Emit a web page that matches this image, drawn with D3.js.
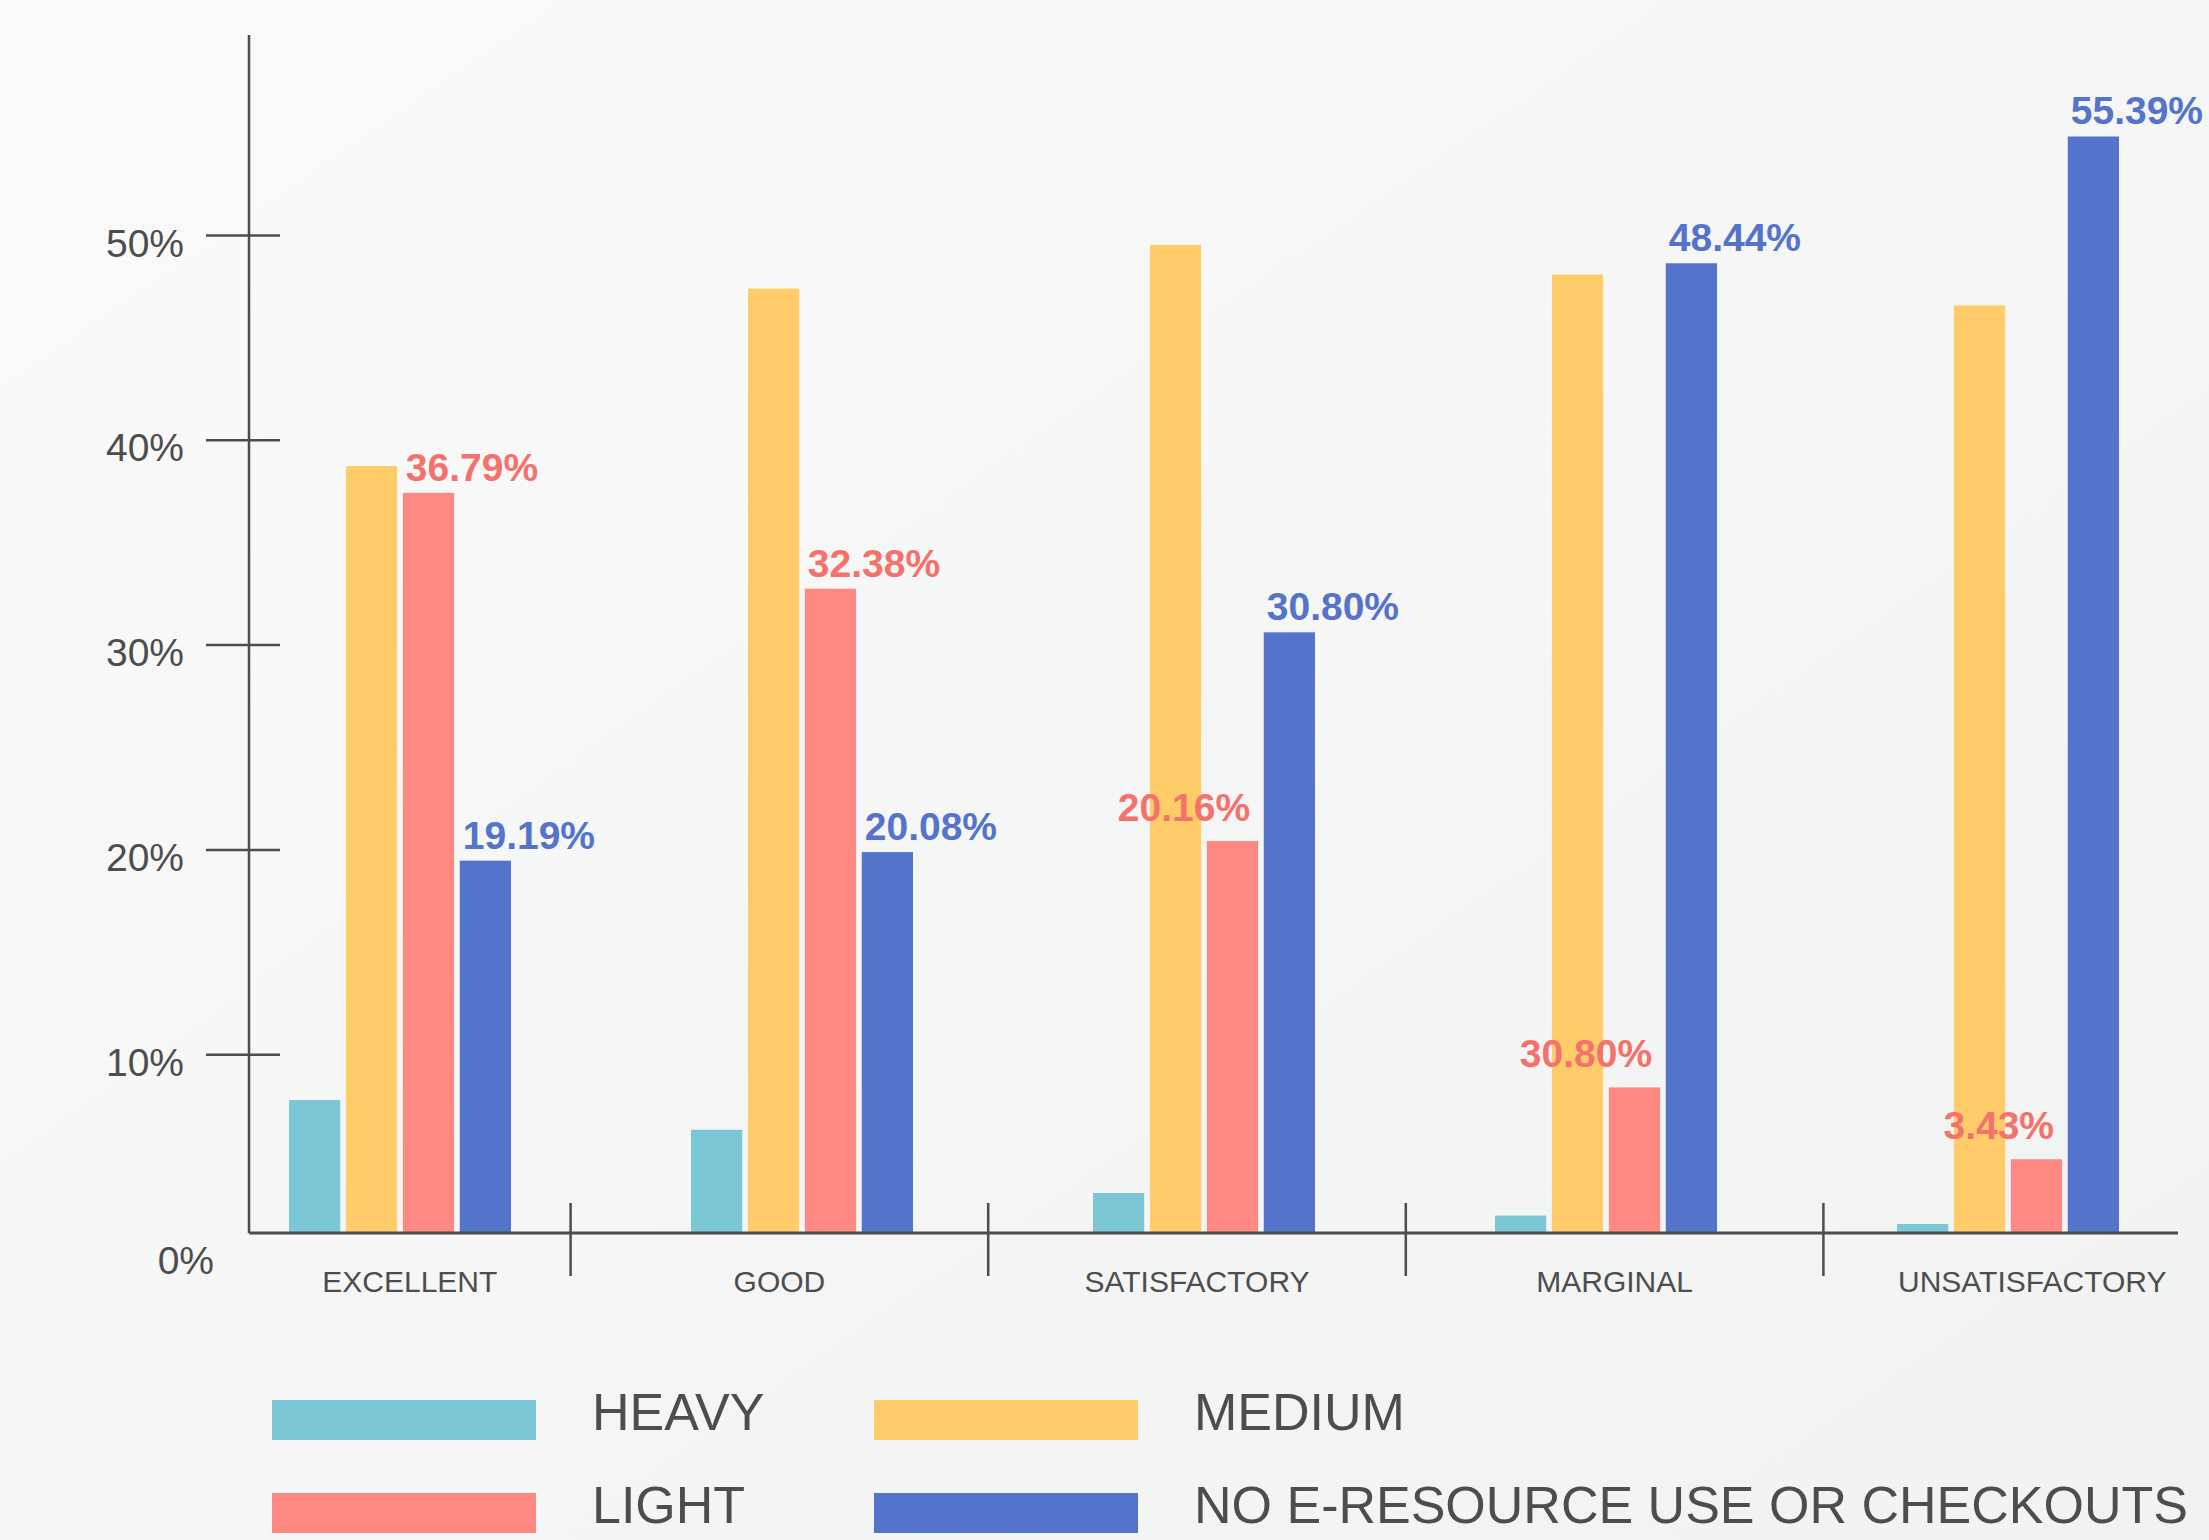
<!DOCTYPE html>
<html>
<head>
<meta charset="utf-8">
<script src="https://cdn.jsdelivr.net/npm/d3@7"></script>
<style>
  body { margin: 0; }
  svg { display: block; font-family: "Liberation Sans", Arial, sans-serif; }
</style>
</head>
<body>
<div id="chart"></div>
<script>
const categories = ["EXCELLENT", "GOOD", "SATISFACTORY", "MARGINAL", "UNSATISFACTORY"];
const seriesNames = ["HEAVY", "MEDIUM", "LIGHT", "NO E-RESOURCE USE OR CHECKOUTS"];
const heavy = [7.76, 6.31, 3.22, 2.12, 1.71];
const medium = [38.72, 47.38, 49.52, 48.07, 46.56];
const light = [37.41, 32.73, 20.41, 8.38, 4.87];
const noUse = [19.45, 19.87, 30.60, 48.62, 54.81];
const lightLabels = ["36.79%", "32.38%", "20.16%", "30.80%", "3.43%"];
const noUseLabels = ["19.19%", "20.08%", "30.80%", "48.44%", "55.39%"];
const yTicks = [0, 10, 20, 30, 40, 50];

const colors = ["#7bc7d6", "#ffcc69", "#ff8882", "#5474cc"];
const labelColors = { LIGHT: "#f5716b", "NO E-RESOURCE USE OR CHECKOUTS": "#5473cb" };

const width = 2209, height = 1540;
const axisX = 249, axisTop = 35, baseY = 1232, baseRight = 2178;
const ink = "#4d4d4d";

const svg = d3.select("#chart").append("svg")
  .attr("width", width)
  .attr("height", height);

const grad = svg.append("defs").append("linearGradient")
  .attr("id", "bg").attr("x1", 0).attr("y1", 0).attr("x2", 1).attr("y2", 1);
grad.append("stop").attr("offset", "0%").attr("stop-color", "#fafafa");
grad.append("stop").attr("offset", "100%").attr("stop-color", "#f1f2f2");
svg.append("rect").attr("width", width).attr("height", height).attr("fill", "url(#bg)");

const y = d3.scaleLinear().domain([0, 50]).range([1259, 235]);

// bands used for category labels and separators
const xBand = d3.scaleBand().domain(categories).range([153, 2241]);
// centres of the bar groups
const xGroup = d3.scalePoint().domain(categories).range([400, 2008]);
const xInner = d3.scaleBand().domain(seriesNames).range([-111, 111]).paddingInner(0.1);

const seriesValues = [heavy, medium, light, noUse];
const bars = [];
seriesNames.forEach((s, si) => {
  categories.forEach((c, ci) => {
    bars.push({ cat: c, series: s, value: seriesValues[si][ci], color: colors[si] });
  });
});

const g = svg.append("g");

g.selectAll("rect.bar").data(bars).enter().append("rect")
  .attr("class", "bar")
  .attr("x", d => xGroup(d.cat) + xInner(d.series))
  .attr("y", d => y(d.value))
  .attr("width", xInner.bandwidth())
  .attr("height", d => baseY - y(d.value))
  .attr("fill", d => d.color);

// y axis
const yAxis = g.append("g")
  .attr("transform", `translate(${axisX},0)`)
  .call(d3.axisLeft(y).tickValues(yTicks).tickFormat(d => d + "%"));
yAxis.select(".domain").remove();
yAxis.selectAll(".tick line")
  .attr("x1", -43).attr("x2", 31)
  .attr("stroke", ink).attr("stroke-width", 2.5)
  .attr("display", d => d === 0 ? "none" : null);
yAxis.selectAll(".tick text")
  .attr("x", d => d === 0 ? -35 : -65)
  .attr("dy", d => d === 0 ? 14 : 21)
  .attr("fill", ink)
  .style("font-size", "39px")
  .style("font-family", "'Liberation Sans', Arial, sans-serif");

g.append("line")
  .attr("x1", axisX).attr("x2", axisX)
  .attr("y1", axisTop).attr("y2", baseY + 1)
  .attr("stroke", ink).attr("stroke-width", 2.5);

// x baseline, separators, category labels
g.append("line")
  .attr("x1", axisX).attr("x2", baseRight)
  .attr("y1", baseY + 1).attr("y2", baseY + 1)
  .attr("stroke", ink).attr("stroke-width", 3);

g.selectAll("line.sep").data(categories.slice(1)).enter().append("line")
  .attr("class", "sep")
  .attr("x1", d => xBand(d)).attr("x2", d => xBand(d))
  .attr("y1", 1203).attr("y2", 1276)
  .attr("stroke", ink).attr("stroke-width", 2.5);

g.selectAll("text.cat").data(categories).enter().append("text")
  .attr("class", "cat")
  .attr("x", d => (Math.max(xBand(d), axisX) + xBand(d) + xBand.bandwidth()) / 2)
  .attr("y", 1292)
  .attr("text-anchor", "middle")
  .attr("fill", ink)
  .style("font-size", "30px")
  .text(d => d);

// value labels
const labels = [];
categories.forEach((c, ci) => {
  labels.push({ cat: c, series: "LIGHT", value: light[ci], text: lightLabels[ci] });
  labels.push({ cat: c, series: seriesNames[3], value: noUse[ci], text: noUseLabels[ci] });
});

g.selectAll("text.val").data(labels).enter().append("text")
  .attr("class", "val")
  .each(function(d) {
    const left = xGroup(d.cat) + xInner(d.series);
    const toLeft = d.series === "LIGHT" && d.value < 25;
    d3.select(this)
      .attr("x", toLeft ? left + xInner.bandwidth() - 8 : left + 3)
      .attr("y", y(d.value) - (toLeft ? 20 : 12))
      .attr("text-anchor", toLeft ? "end" : "start");
  })
  .attr("fill", d => labelColors[d.series])
  .style("font-size", "39px")
  .style("font-weight", "bold")
  .text(d => d.text);

// legend
const legend = g.selectAll("g.leg").data(seriesNames).enter().append("g")
  .attr("class", "leg")
  .attr("transform", (d, i) => `translate(${272 + (i % 2) * 602},${1400 + Math.floor(i / 2) * 93})`);
legend.append("rect")
  .attr("width", 264).attr("height", 40)
  .attr("fill", (d, i) => colors[i]);
legend.append("text")
  .attr("x", 320).attr("y", 30)
  .attr("fill", ink)
  .style("font-size", "52px")
  .text(d => d);
</script>
</body>
</html>
